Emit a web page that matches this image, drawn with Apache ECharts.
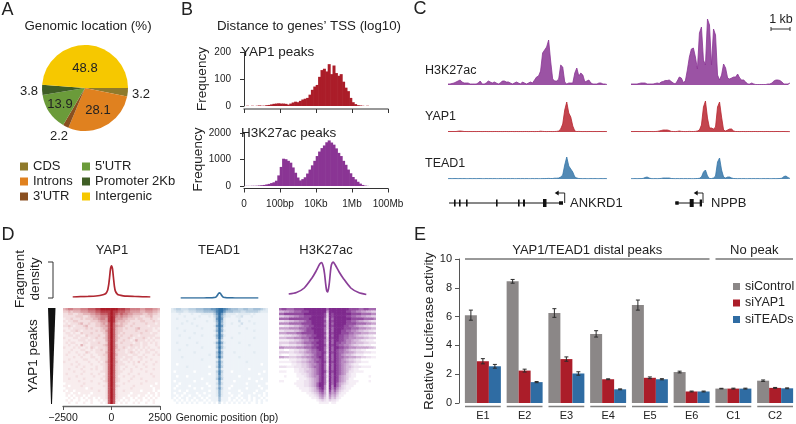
<!DOCTYPE html>
<html>
<head>
<meta charset="utf-8">
<style>html,body{margin:0;background:#fff}#main{width:796px;height:424px}</style>
<script src="https://cdn.jsdelivr.net/npm/echarts@6/dist/echarts.min.js"></script>
</head>
<body>
<div id="main"></div>
<script>
var FONT = '"Liberation Sans", Arial, sans-serif';
var TXT = '#222';
var RED = '#ab1d29', BLUE = '#3576a8', PURPLE = '#8a3594', GREY = '#8b8787';

// A: genomic location
var pieNames = ['CDS', 'Introns', "3'UTR", "5'UTR", 'Promoter 2Kb', 'Intergenic'];
var pieValues = [3.2, 28.1, 2.2, 13.9, 3.8, 48.8];
var pieColors = ['#8f7a2b', '#e0811f', '#8a4f20', '#6b9b3a', '#3f5e25', '#f6c800'];

// B: histograms of log10 distance, 60 bins over 0..8
var yapHist = [0,1,0,1,0,1,2,1,1,3,4,6,8,9,10,9,9,8,5,9,13,16,14,19,24,27,30,42,60,72,78,108,133,138,128,155,118,150,122,112,118,90,68,55,30,14,7,3,2,1,0,1,0,0,0,0,0,0,0,0];
var h3Hist = [5,5,5,8,8,12,20,30,40,60,80,110,140,200,400,720,1030,1010,950,880,700,500,320,210,260,330,470,620,780,950,1130,1300,1430,1530,1650,1720,1640,1560,1420,1250,1130,950,800,620,480,340,250,160,90,40,15,5,0,0,0,0,0,0,0,0];
var histTicks = {0: '0', 2: '100bp', 4: '10Kb', 6: '1Mb', 8: '100Mb'};

// C: browser tracks, one value per 2px-ish bin
var h3Left = [1,1,1.5,2,3,4,5,3,2,2,2,1,1,1,1,2,4,1,1,2,4,3,2,3,2,1,2,4,4,3,3,2,1,2,3,2,1,3,2,1,2,3,2,5,8,9,14,32,35,38,45,24,6,4,4,6,20,18,3,1,2,2,2,12,17,9,12,10,3,4,5,2,1,1,1,2,2,1,1,0.5];
var yapLeft = [0.5,0.5,0.5,0.5,0.5,0.8,1,0.8,0.5,0.5,0.4,0.5,0.4,0.5,0.4,0.5,0.5,0.4,0.5,0.5,0.4,0.5,0.4,0.5,0.5,0.4,0.5,0.4,0.5,0.5,0.4,0.5,0.5,0.4,0.5,0.4,0.5,0.4,0.5,0.5,0.4,0.5,0.5,0.4,0.5,0.5,0.8,0.6,0.5,0.4,0.5,0.5,0.4,0.5,0.6,1,3,8,22,30,19,15,6,1,0.5,0.6,0.5,0.4,0.5,0.4,0.5,0.5,0.4,0.5,0.4,0.5,0.5,0.4,0.5,0.4];
var teadLeft = [0.3,0.4,0.3,0.4,0.4,0.3,0.4,0.3,0.4,0.3,0.3,0.4,0.3,0.4,0.3,0.4,0.4,0.3,0.3,0.4,0.3,0.4,0.3,0.4,0.3,0.3,0.4,0.3,0.4,0.3,0.4,0.3,0.4,0.3,0.3,0.4,0.3,0.4,0.3,0.4,0.3,0.3,0.4,0.3,0.4,0.3,0.3,0.4,0.4,0.5,0.6,0.5,0.5,0.8,0.8,1,2,4,14,22,13,10,7,2,1,0.5,0.4,0.3,0.4,0.3,0.3,0.4,0.3,0.4,0.3,0.3,0.4,0.3,0.4,0.3];
var h3Right = [1,1,1,1,1.5,2,2,2,1,1,1,1,1.5,2,1.5,3,3.5,4.5,4.5,5,3.5,2,1,4,8,7,2.5,4,15,28,36,37,28,16,52,58,25,20,66,60,20,56,50,10,5,10,21,17,7,6,7,8,8,11,7,5,5,3,1,1,2,1,0.5,0.5,0.5,0.5,0.5,0.5,1,1,2,4,5,5,4.5,3,1,1,1,2];
var yapRight = [0.5,0.4,0.5,0.5,0.4,0.5,0.5,0.4,0.5,0.5,0.5,0.4,0.5,0.6,1,1.5,2,2,2,1.5,0.6,0.5,0.4,0.6,1,0.6,0.5,0.4,0.5,0.6,0.5,0.5,0.6,1,2,7,25,31,14,4,4,3,5,25,30,15,2,1,2,3,3,1,0.5,0.5,0.4,0.5,0.5,0.4,0.5,0.5,0.4,0.5,0.5,0.4,0.5,0.5,0.4,0.5,0.5,0.4,0.5,0.4,0.5,0.5,0.4,0.5,0.5,0.4,0.4,0.3];
var teadRight = [0.3,0.3,0.4,0.3,0.4,0.4,0.6,1.5,2,1,0.4,0.3,0.4,0.3,0.4,0.6,1,1,1,1,0.5,0.4,0.3,0.4,0.3,0.4,0.3,0.4,0.3,0.4,0.3,0.3,0.4,0.5,0.7,2,7,9,3,0.5,0.5,1,3,17,21,9,2,1,2,2,1,0.5,0.4,0.3,0.4,0.3,0.4,0.3,0.3,0.4,0.3,0.4,0.3,0.4,0.3,0.3,0.4,0.3,0.4,0.3,0.3,0.4,0.3,0.4,0.5,0.8,2.5,3,1.5,0.5];
var trackBaselines = [85, 132, 179];
var trackNames = ['H3K27ac', 'YAP1', 'TEAD1'];

// gene models: [start, end, height]
var ankrd1Exons = [[6,7.4,7],[11,12.3,7],[18,19.3,7],[48,49,7],[70,71.3,7],[75,77,7],[95,98.5,8],[111,115,3.5]];
var nppbExons = [[44.3,47.7,3.5],[58.7,62.7,8],[68.7,71,7]];
var ankrd1Gene = [1, 115, 116.7, 106.7];
var nppbGene = [44.3, 71, 72, 62.7];

// D: aggregate density profiles
var densityPos = [-2000,-1600,-1200,-800,-600,-400,-300,-200,-150,-100,-50,0,50,100,150,200,300,400,600,800,1200,1600,2000];
var densityYap = [0,0.3,0.6,1,1.5,2.5,3.5,7,12,20,29,32,29,20,11,6,3,2,1.2,0.8,0.5,0.2,0];
var densityTead = [0,0,0,0,0.1,0.2,0.3,0.8,1.5,3,4.5,5.2,4.5,3,1.5,0.8,0.3,0.2,0.1,0,0,0,0];
var densityH3 = [4,5.5,10,20,26.5,34,35.5,30,24,15,8,6,9,16,26,33,35.8,33,26,20,10,5.5,3.5];

// D: heatmaps, one string per row, one digit 0-9 per column
var heatYap = [
'456655566677788999999988877666655666554',
'334344455566677888898877766555544555443',
'223322334445566777898767665544443344332',
'222223332234455666898656554433322334222',
'122322232333445665898555443332332223221',
'212233222223334555898544433222233222322',
'121222342232233454797434332232222322212',
'223212223422233445797544322322222212222',
'112122222323222344797433232223422222121',
'211223212222232335797433222223222322112',
'122121132223222234797432322222232221221',
'112212211322223224797423222322122222211',
'211122122212232234797432223212223212122',
'112111222122122224797422322124222121211',
'121221112212223223797323222212212212121',
'112112142112222234797422222322212211121',
'211121211213212223797422321221212121112',
'111211122112122323797332212212121212211',
'112112111321122224797322212321211221121',
'121111212112112233797422221122112111212',
'111121121112211223797322122211221211111',
'112111112211121223797321221211121112111',
'211112111121112124797422112121311211121',
'111211211112111223797322211121112111211',
'111112112111121123797321121112111211111',
'112111121112121123797321211211121111211',
'111121112111111223797322111211111211111',
'121111121112112113797321112111211112111',
'111112111111211123797311211121111111211',
'112111112111111213797321111211121111111',
'111111211112111123797321112111111211111',
'011111112111112112797211211111121111101',
'110111121111111122797321111121111110111',
'011111111012111112797211111211111111011',
'101101111111112112797211211111101111010',
'011011011110111112797211111011111101101',
'010101110101111112797211110111011010101',
'001010101011010112797211011010110101010',
'010100100101001011797110101001010010100',
'001001001001000101797101010010100100100'
];
var heatTead = [
'234433344455566677899876555445544555432',
'223332233344455556899755544433444443222',
'111211112111222224797422221222221211111',
'111112111112111213696322112231112111111',
'112111111211111112797211111211111111111',
'111111211111112112696211111311121111111',
'111121112111111111595211211131111211111',
'111111111121111112797211111211111111111',
'112111111111211111595111111111211111111',
'111112111111111112696211111111111211111',
'111111111211111111494111111211111111111',
'111211111111211112696211111111111111111',
'111111121111111111595111211111111211111',
'111111111111111111383111111111111111111',
'112111111121111112696211111211111111111',
'111111211111111111484111111111121111111',
'111111111111211111595211111111111111111',
'111211111111111111383111111111111111111',
'111111111211111111595111121111111211111',
'111111111111111211484111111111111111111',
'111121111111111111595111111211111111111',
'111111111111211111272111111111111111111',
'111111111111111111484111111111211111111',
'110111111111111111383111111111111111011',
'111111211111111011484111111111111111111',
'111111111111111111272111111111101111111',
'101111111011111111484111011111111111101',
'111111111111111011383111111111111110111',
'110111011111111111373111111011111111111',
'111111111111011111484111111111101111011',
'101111111011111111272111101111111101111',
'111011111111110111373111111111011111110',
'110111101111111011262111011111111110111',
'101111111011011111373110111111011111011',
'111011011111111011262111111011111101110',
'101110111101101111262110111101111011101',
'110101101110111011262111011011101110101',
'101011011011010111151110110101101011010',
'010101010101101011151110101010101010101',
'001010101010010101030101010101010010100'
];
var heatH3 = [
'788777888899999999979999999988887788777',
'445566777888999999959999999887766554433',
'778888888899999999839899999998888777766',
'334455667788899999839899999887766554433',
'777788888888999999729799999998888877776',
'223344556678899999839899999887765544322',
'666677777888899999739799999888877776655',
'112233445677889999839899998877654433211',
'555566667778899999739799998887776665544',
'223333445678889999729799988776654433221',
'555666677888889999839899988877666555444',
'112223345667788999729799887766543322110',
'444555666777889999839899887766655544333',
'111122334566778899739799887665443221110',
'333344455677788999729798877665544433222',
'211122233456678899839898776654332211100',
'665555566677788999739799887766655555443',
'110011223345677899729798776543322110000',
'333322334456677889839898776655433322211',
'100011122344567889719798765443211100000',
'554433344556677899739798776655544332211',
'000011122334567789729798765433211000000',
'111112233445667889839898766544322111000',
'000001122334566789719798765432110000000',
'222111222334567789729798765443222111100',
'000000112233456789729798765432110000000',
'111000112234456789839898765422111100000',
'000000011223456789719798765321100000000',
'001000011123456689729798654321100000100',
'000000001112345689719798654311000000000',
'110000011122345689729798654211110000100',
'000000111122345799719797543211100000000',
'000000011122345799619697532111000000000',
'000000001111234689619686432110000000000',
'000000000111234578518575321100000000000',
'000000000001123467517564211000000000000',
'000000000000112356416453110000000000000',
'000000000000011245315342100000000000000',
'000000000000000123213221000000000000000',
'000000000000000011110110000000000000000'
];
// how far each digit goes from white to the full colour
var heatRamp = [0, 0.08, 0.14, 0.22, 0.32, 0.43, 0.55, 0.7, 0.85, 1];

// E: luciferase assay
var lucCats = ['E1','E2','E3','E4','E5','E6','C1','C2'];
var siControl = [6.1,8.45,6.25,4.8,6.8,2.15,1.0,1.55];
var siYap = [2.9,2.25,3.05,1.65,1.75,0.8,1.0,1.05];
var siTead = [2.55,1.45,2.05,0.95,1.65,0.8,1.0,1.02];
var errControl = [0.35,0.13,0.3,0.22,0.35,0.06,0.02,0.05];
var errYap = [0.18,0.1,0.15,0.03,0.06,0.03,0.03,0.03];
var errTead = [0.13,0.04,0.12,0.03,0.04,0.03,0.03,0.03];
var peakGroups = [[0, 5, 'YAP1/TEAD1 distal peaks'], [6, 7, 'No peak']];

var grids = [], xAxes = [], yAxes = [], series = [];

function addGrid(left, top, width, height, xa, ya) {
    var i = grids.length;
    grids.push({left: left, top: top, width: width, height: height});
    xa.gridIndex = i;
    ya.gridIndex = i;
    xAxes.push(xa);
    yAxes.push(ya);
    return i;
}

function hidden(extra) {
    var a = {type: 'value', show: false, splitLine: {show: false}};
    for (var k in extra) a[k] = extra[k];
    return a;
}

function text(x, y, str, size, opt) {
    opt = opt || {};
    return {
        type: 'text', x: x, y: y, rotation: opt.rot || 0, silent: true,
        style: {
            text: str, fill: opt.fill || TXT, font: size + 'px ' + FONT,
            textAlign: opt.align || 'center', textVerticalAlign: 'middle'
        }
    };
}

function line(points, color, w) {
    return {type: 'polyline', silent: true, shape: {points: points}, style: {stroke: color || '#333', lineWidth: w || 1, fill: null}};
}

// ---- B
function addHist(top, height, max, step, values, color, showLabels, offset, name) {
    var g = addGrid(244, top, 144, height, {
        type: 'value', min: 0, max: 8, interval: 2, offset: offset,
        axisLine: {show: true, onZero: false, lineStyle: {color: showLabels ? '#333' : '#777', width: showLabels ? 1 : 1.5}},
        axisTick: {show: true, length: 4, lineStyle: {color: '#333'}},
        splitLine: {show: false},
        axisLabel: {show: showLabels, fontSize: 10, color: TXT, margin: 11, hideOverlap: false, showMinLabel: true, showMaxLabel: true,
            formatter: function (v) { return histTicks[v]; }}
    }, {
        type: 'value', min: 0, max: max, interval: step, offset: 5,
        name: name, nameLocation: 'middle', nameGap: 30, nameTextStyle: {fontSize: 13.5, color: TXT},
        axisLine: {show: true, lineStyle: {color: '#333'}},
        axisTick: {show: true, length: 4, lineStyle: {color: '#333'}},
        splitLine: {show: false},
        axisLabel: {fontSize: 10, color: TXT, margin: 8, formatter: function (v) { return String(v); }}
    });
    series.push({
        type: 'bar', xAxisIndex: g, yAxisIndex: g, barWidth: 3, itemStyle: {color: color},
        data: values.map(function (v, i) { return [(i + 0.5) * 8 / values.length, v]; })
    });
}
addHist(52, 54, 200, 100, yapHist, RED, false, 3, 'Frequency');
addHist(133, 53, 2000, 1000, h3Hist, PURPLE, true, 2.5, 'Frequency');

// ---- C
function addTrack(left, baseline, values, color) {
    var g = addGrid(left, baseline - 70, 159, 70,
        {type: 'category', show: false, boundaryGap: false, data: values.map(function (v, i) { return i; })},
        hidden({min: 0, max: 70}));
    series.push({
        type: 'line', xAxisIndex: g, yAxisIndex: g, symbol: 'none', data: values,
        lineStyle: {color: color, width: 0.8}, areaStyle: {color: color, opacity: 0.85}
    });
}
addTrack(448, trackBaselines[0], h3Left, PURPLE);
addTrack(448, trackBaselines[1], yapLeft, '#b8242f');
addTrack(448, trackBaselines[2], teadLeft, BLUE);
addTrack(631, trackBaselines[0], h3Right, PURPLE);
addTrack(631, trackBaselines[1], yapRight, '#b8242f');
addTrack(631, trackBaselines[2], teadRight, BLUE);

function addGene(left, exons, gene) {
    var g = addGrid(left, 193, 160, 20, hidden({min: 0, max: 160}), hidden({min: 0, max: 20}));
    series.push({
        type: 'custom', xAxisIndex: g, yAxisIndex: g, silent: true,
        data: exons,
        renderItem: function (params, api) {
            var a = api.coord([api.value(0), 10]);
            var b = api.coord([api.value(1), 10]);
            var h = api.value(2);
            return {type: 'rect', shape: {x: a[0], y: a[1] - h / 2, width: Math.max(b[0] - a[0], 1.6), height: h}, style: {fill: '#111'}};
        }
    });
    series.push({
        type: 'custom', xAxisIndex: g, yAxisIndex: g, silent: true,
        data: [gene],
        renderItem: function (params, api) {
            var s = api.coord([api.value(0), 10]);
            var e = api.coord([api.value(1), 10]);
            var t = api.coord([api.value(2), 10]);
            var top = api.coord([api.value(2), 20]);
            var tip = api.coord([api.value(3), 20]);
            return {type: 'group', children: [
                {type: 'line', shape: {x1: s[0], y1: s[1], x2: e[0], y2: e[1]}, style: {stroke: '#111', lineWidth: 1}},
                {type: 'polyline', shape: {points: [t, top, [tip[0] + 3, tip[1]]]}, style: {stroke: '#111', lineWidth: 0.9, fill: null}},
                {type: 'polygon', shape: {points: [tip, [tip[0] + 4, tip[1] - 2.5], [tip[0] + 4, tip[1] + 2.5]]}, style: {fill: '#111'}}
            ]};
        }
    });
}
addGene(448, ankrd1Exons, ankrd1Gene);
addGene(631, nppbExons, nppbGene);

// ---- D density
function addDensity(left, values, color, showAxis) {
    var xa = showAxis ? {
        type: 'value', min: -2500, max: 2500, interval: 2500, offset: 109,
        axisLine: {show: true, onZero: false, lineStyle: {color: '#666', width: 1.3}},
        axisTick: {show: true, length: 4, lineStyle: {color: '#555'}},
        splitLine: {show: false},
        axisLabel: {fontSize: 10.5, color: TXT, margin: 7, showMinLabel: true, showMaxLabel: true,
            formatter: function (v) { return String(v).replace('-', '\u2212'); }}
    } : hidden({min: -2500, max: 2500});
    var g = addGrid(left, 258, 97, 40, xa, hidden({min: 0, max: 40}));
    series.push({
        type: 'line', xAxisIndex: g, yAxisIndex: g, symbol: 'none', smooth: 0.25,
        lineStyle: {color: color, width: 1.7},
        data: densityPos.map(function (p, i) { return [p, values[i]]; })
    });
}
addDensity(63, densityYap, '#b02731', true);
addDensity(171, densityTead, '#34709f', false);
addDensity(279, densityH3, '#8a3f98', false);

// ---- D heatmaps, cells overlap a little so no seams show between them
function mix(rgb, t) {
    return 'rgb(' + rgb.map(function (c) { return Math.round(255 + (c - 255) * t); }).join(',') + ')';
}
function addHeat(left, rows, rgb) {
    var palette = heatRamp.map(function (t) { return mix(rgb, t); });
    var data = [];
    rows.forEach(function (r, ri) {
        for (var c = 0; c < r.length; c++) data.push([c, ri, +r[c]]);
    });
    var g = addGrid(left, 308, 97, 96,
        hidden({min: 0, max: rows[0].length}),
        hidden({min: 0, max: rows.length, inverse: true}));
    series.push({
        type: 'custom', xAxisIndex: g, yAxisIndex: g, silent: true, progressive: 0, clip: true, data: data,
        renderItem: function (params, api) {
            var a = api.coord([api.value(0), api.value(1)]);
            var b = api.coord([api.value(0) + 1, api.value(1) + 1]);
            return {type: 'rect', shape: {x: a[0], y: a[1], width: b[0] - a[0] + 0.6, height: b[1] - a[1] + 0.6}, style: {fill: palette[api.value(2)]}};
        }
    });
}
addHeat(63, heatYap, [172, 26, 38]);
addHeat(171, heatTead, [47, 111, 165]);
addHeat(279, heatH3, [127, 42, 142]);

// ---- E
var eg = addGrid(462, 259, 336, 144, {
    type: 'category', data: lucCats,
    axisLine: {show: false}, axisTick: {show: false},
    axisLabel: {fontSize: 11, color: TXT, margin: 7}
}, {
    type: 'value', min: 0, max: 10, interval: 2, offset: 3,
    name: 'Relative Luciferase activity', nameLocation: 'middle', nameGap: 22, nameTextStyle: {fontSize: 13.3, color: TXT},
    axisLine: {show: true, lineStyle: {color: '#555'}},
    axisTick: {show: true, length: 4, lineStyle: {color: '#555'}},
    splitLine: {show: false},
    axisLabel: {fontSize: 11, color: TXT, margin: 7}
});
var lucSeries = [['siControl', siControl, errControl, GREY, -12], ['siYAP1', siYap, errYap, RED, 0], ['siTEADs', siTead, errTead, '#2f6ca3', 12]];
lucSeries.forEach(function (s) {
    series.push({
        type: 'bar', name: s[0], xAxisIndex: eg, yAxisIndex: eg, barWidth: 12, barGap: 0,
        itemStyle: {color: s[3]}, data: s[1]
    });
});
lucSeries.forEach(function (s) {
    series.push({
        type: 'custom', xAxisIndex: eg, yAxisIndex: eg, silent: true, z: 5,
        encode: {x: 0, y: [1, 2]},
        data: s[1].map(function (v, i) { return [i, v - s[2][i], v + s[2][i]]; }),
        renderItem: function (params, api) {
            var lo = api.coord([api.value(0), api.value(1)]);
            var hi = api.coord([api.value(0), api.value(2)]);
            var x = lo[0] + s[4];
            var st = {stroke: '#2b2b2b', lineWidth: 1};
            return {type: 'group', children: [
                {type: 'line', shape: {x1: x, y1: lo[1], x2: x, y2: hi[1]}, style: st},
                {type: 'line', shape: {x1: x - 2, y1: lo[1], x2: x + 2, y2: lo[1]}, style: st},
                {type: 'line', shape: {x1: x - 2, y1: hi[1], x2: x + 2, y2: hi[1]}, style: st}
            ]};
        }
    });
});
// grey rule under each group of bars
series.push({
    type: 'custom', xAxisIndex: eg, yAxisIndex: eg, silent: true, clip: false,
    data: lucCats.map(function (c, i) { return [i, 0]; }),
    renderItem: function (params, api) {
        var p = api.coord([api.value(0), 0]);
        var band = api.size([1, 0])[0];
        return {type: 'line', shape: {x1: p[0] - band / 2 + 3, y1: p[1] + 3.5, x2: p[0] + band / 2 - 3, y2: p[1] + 3.5}, style: {stroke: '#808080', lineWidth: 1.3}};
    }
});
// rules and captions above the groups
series.push({
    type: 'custom', xAxisIndex: eg, yAxisIndex: eg, silent: true, clip: false,
    data: peakGroups.map(function (g) { return [g[0], g[1]]; }),
    renderItem: function (params, api) {
        var a = api.coord([api.value(0), 10]);
        var b = api.coord([api.value(1), 10]);
        var band = api.size([1, 0])[0];
        var x1 = a[0] - band / 2 + 3, x2 = b[0] + band / 2 - 3;
        return {type: 'group', children: [
            {type: 'line', shape: {x1: x1, y1: a[1], x2: x2, y2: a[1]}, style: {stroke: '#333', lineWidth: 1}},
            {type: 'text', x: (x1 + x2) / 2, y: a[1] - 9, style: {text: peakGroups[params.dataIndex][2], fill: TXT, font: '13px ' + FONT, textAlign: 'center', textVerticalAlign: 'middle'}}
        ]};
    }
});

// ---- A
var pieLabelPos = [[141, 94], [98, 110], [59, 136], [60, 104], [29, 91], [85, 68]];
series.push({
    type: 'pie', center: [85, 88], radius: 43, startAngle: 0, clockwise: true,
    silent: true,
    color: pieColors,
    label: {position: 'inside', fontSize: 13, color: TXT, formatter: function (p) { return p.value.toFixed(1); }},
    labelLine: {show: false},
    labelLayout: function (p) {
        return {x: pieLabelPos[p.dataIndex][0], y: pieLabelPos[p.dataIndex][1], align: 'center', verticalAlign: 'middle'};
    },
    data: pieNames.map(function (n, i) { return {name: n, value: pieValues[i]}; })
});

var legendBase = {icon: 'rect', itemWidth: 8, itemHeight: 8, itemGap: 2, orient: 'vertical', selectedMode: false, padding: 0, align: 'left'};
function legend(left, top, names, extra) {
    var l = {left: left, top: top, data: names, textStyle: {fontSize: 13, color: TXT}};
    for (var k in legendBase) l[k] = legendBase[k];
    for (var e in extra) l[e] = extra[e];
    return l;
}

var graphicEls = [
    text(7.5, 10, 'A', 18), text(187, 10, 'B', 18), text(420, 9, 'C', 18), text(8, 235, 'D', 18), text(420, 235, 'E', 18),
    text(88, 26, 'Genomic location (%)', 13.3),
    text(309, 26, "Distance to genes\u2019 TSS (log10)", 13.3),
    text(241, 52, 'YAP1 peaks', 13.5, {align: 'left'}),
    text(241, 133, 'H3K27ac peaks', 13.5, {align: 'left'}),
    text(425, 71, trackNames[0], 12.5, {align: 'left'}),
    text(425, 117, trackNames[1], 12.5, {align: 'left'}),
    text(425, 164, trackNames[2], 12.5, {align: 'left'}),
    text(570, 203, 'ANKRD1', 13, {align: 'left'}),
    text(711, 203, 'NPPB', 13, {align: 'left'}),
    text(781, 20, '1 kb', 12.5),
    line([[771, 29], [790, 29]], '#333'), line([[771, 27], [771, 31]], '#333'), line([[790, 27], [790, 31]], '#333'),
    text(112, 250, 'YAP1', 13), text(219, 250, 'TEAD1', 13), text(326, 250, 'H3K27ac', 13),
    text(20, 279, 'Fragment', 13.5, {rot: Math.PI / 2}),
    text(35, 279, 'density', 13.5, {rot: Math.PI / 2}),
    line([[48, 262], [53, 262], [53, 298], [48, 298]], '#333'),
    text(33, 356, 'YAP1 peaks', 13.5, {rot: Math.PI / 2}),
    {type: 'polygon', silent: true, shape: {points: [[48, 308], [55.5, 308], [52, 404], [51, 404]]}, style: {fill: '#111'}},
    text(227, 418, 'Genomic position (bp)', 10.5)
];

var chart = echarts.init(document.getElementById('main'));
chart.setOption({
    animation: false,
    backgroundColor: '#fff',
    textStyle: {fontFamily: FONT},
    grid: grids, xAxis: xAxes, yAxis: yAxes,
    legend: [
        legend(20, 160, pieNames.slice(0, 3)),
        legend(82, 160, pieNames.slice(3)),
        legend(733, 280, ['siControl', 'siYAP1', 'siTEADs'], {itemWidth: 7, itemHeight: 7, itemGap: 3.5, textStyle: {fontSize: 12.5, color: TXT}})
    ],
    graphic: {elements: graphicEls},
    series: series
});
</script>
</body>
</html>
